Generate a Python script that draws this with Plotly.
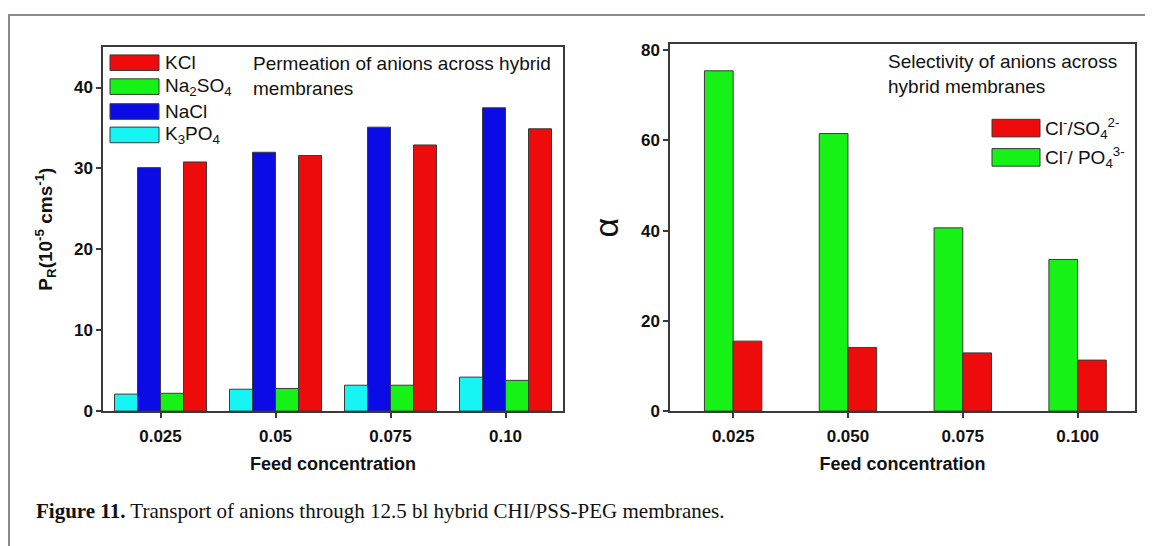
import plotly.graph_objects as go

# The page body adds an 8 px margin; the figure is sized to fill the rest of the window.
PAGE_W, PAGE_H = 1153, 546
OFF = 8
W, H = PAGE_W - OFF, PAGE_H - OFF

# ---------------- data ----------------
conc_left = ["0.025", "0.05", "0.075", "0.10"]
conc_right = ["0.025", "0.050", "0.075", "0.100"]

k3po4 = [2.1, 2.7, 3.2, 4.2]
nacl = [30.1, 32.0, 35.1, 37.5]
na2so4 = [2.2, 2.8, 3.2, 3.8]
kcl = [30.8, 31.6, 32.9, 34.9]

sel_po4 = [75.4, 61.5, 40.6, 33.6]
sel_so4 = [15.5, 14.1, 12.9, 11.3]

left_ticks = [0, 10, 20, 30, 40]
right_ticks = [0, 20, 40, 60, 80]

left_names = ["KCl", "Na<sub>2</sub>SO<sub>4</sub>", "NaCl", "K<sub>3</sub>PO<sub>4</sub>"]
right_names = ["Cl<sup>-</sup>/SO<sub>4</sub><sup>2-</sup>", "Cl<sup>-</sup>/ PO<sub>4</sub><sup>3-</sup>"]

# ---------------- styles ----------------
RED = "#EE0B0B"
GREEN = "#16F216"
BLUE = "#0B0BE6"
CYAN = "#16F4F4"
EDGE = "#3a3a3a"
SANS = "Liberation Sans, Arial, sans-serif"
SERIF = "Liberation Serif, Times New Roman, serif"


def px(x):
    return (x - OFF) / W


def py(y):
    return 1 - (y - OFF) / H


fig = go.Figure()

bar_line = dict(color=EDGE, width=1)
left_series = [
    (k3po4, CYAN, left_names[3], -0.4),
    (nacl, BLUE, left_names[2], -0.2),
    (na2so4, GREEN, left_names[1], 0.0),
    (kcl, RED, left_names[0], 0.2),
]
for vals, col, name, off in left_series:
    fig.add_trace(go.Bar(x=conc_left, y=vals, name=name, marker=dict(color=col, line=bar_line),
                         width=0.2, offset=off, xaxis="x", yaxis="y", showlegend=False))

right_series = [
    (sel_po4, GREEN, right_names[1], -0.25),
    (sel_so4, RED, right_names[0], 0.0),
]
for vals, col, name, off in right_series:
    fig.add_trace(go.Bar(x=conc_right, y=vals, name=name, marker=dict(color=col, line=bar_line),
                         width=0.25, offset=off, xaxis="x2", yaxis="y2", showlegend=False))

axis_common = dict(showline=True, linecolor=EDGE, linewidth=1.5, mirror=True,
                   ticks="outside", ticklen=5, tickwidth=1.5, tickcolor=EDGE,
                   showgrid=False, zeroline=False,
                   tickfont=dict(family=SANS, size=17, color="#111"))

xtitle_font = dict(family=SANS, size=18, color="#111")

fig.update_layout(
    width=W, height=H,
    margin=dict(l=0, r=0, t=0, b=0),
    paper_bgcolor="white", plot_bgcolor="white",
    barmode="overlay",
    xaxis=dict(domain=[px(103), px(563)], anchor="y", type="category",
               range=[-0.5, 3.5], ticklabelstandoff=4,
               tickvals=conc_left, ticktext=[f"<b>{c}</b>" for c in conc_left],
               title=dict(text="<b>Feed concentration</b>", font=xtitle_font, standoff=12),
               **axis_common),
    yaxis=dict(domain=[py(418), py(45)], anchor="x", range=[0, 45], tickvals=left_ticks,
               ticktext=[f"<b>{v}</b>" for v in left_ticks],
               title=dict(text="<b>P<sub>R</sub>(10<sup>-5</sup> cms<sup>-1</sup>)</b>",
                          font=dict(family=SANS, size=19, color="#111"), standoff=16),
               **axis_common),
    xaxis2=dict(domain=[px(670), px(1135)], anchor="y2", type="category",
                range=[-0.55, 3.5], ticklabelstandoff=4,
                tickvals=conc_right, ticktext=[f"<b>{c}</b>" for c in conc_right],
                title=dict(text="<b>Feed concentration</b>", font=xtitle_font, standoff=12),
                **axis_common),
    yaxis2=dict(domain=[py(418), py(42)], anchor="x2", range=[0, 81.3], tickvals=right_ticks,
                ticktext=[f"<b>{v}</b>" for v in right_ticks],
                title=dict(text="α", font=dict(family=SANS, size=34, color="#111"), standoff=12),
                **axis_common),
)

shapes = []
annotations = []

# outer frame of the figure panel
shapes.append(dict(type="rect", xref="paper", yref="paper", x0=px(9), x1=px(1190), y0=py(600), y1=py(12),
                   line=dict(color="#8a8a8a", width=2), fillcolor="rgba(0,0,0,0)", layer="below"))

# left legend (manual, wide keys like the original)
left_cols = [RED, GREEN, BLUE, CYAN]
left_rows = [61, 85.5, 111, 135]
for name, col, yc in zip(left_names, left_cols, left_rows):
    shapes.append(dict(type="rect", xref="paper", yref="paper", x0=px(110), x1=px(159),
                       y0=py(yc + 8), y1=py(yc - 8), fillcolor=col, line=dict(color=EDGE, width=1)))
    annotations.append(dict(xref="paper", yref="paper", x=px(163), y=py(yc), text=name, showarrow=False,
                            xanchor="left", yanchor="middle", font=dict(family=SANS, size=19, color="#111")))

# right legend
right_cols = [RED, GREEN]
right_rows = [128, 158]
for name, col, yc in zip(right_names, right_cols, right_rows):
    shapes.append(dict(type="rect", xref="paper", yref="paper", x0=px(992), x1=px(1040),
                       y0=py(yc + 9), y1=py(yc - 9), fillcolor=col, line=dict(color=EDGE, width=1)))
    annotations.append(dict(xref="paper", yref="paper", x=px(1043), y=py(yc), text=name, showarrow=False,
                            xanchor="left", yanchor="middle", font=dict(family=SANS, size=19, color="#111")))

# in-plot descriptions
annotations.append(dict(xref="paper", yref="paper", x=px(251), y=py(49),
                        text="Permeation of anions across hybrid<br>membranes", showarrow=False,
                        xanchor="left", yanchor="top", align="left",
                        font=dict(family=SANS, size=19, color="#111")))
annotations.append(dict(xref="paper", yref="paper", x=px(886), y=py(47),
                        text="Selectivity of anions across<br>hybrid membranes", showarrow=False,
                        xanchor="left", yanchor="top", align="left",
                        font=dict(family=SANS, size=19, color="#111")))

# caption
annotations.append(dict(xref="paper", yref="paper", x=px(34), y=py(520),
                        text="<b>Figure 11.</b> Transport of anions through 12.5 bl hybrid CHI/PSS-PEG membranes.",
                        showarrow=False, xanchor="left", yanchor="middle",
                        font=dict(family=SERIF, size=21, color="#111")))

fig.update_layout(shapes=shapes, annotations=annotations)

fig.write_html("out.html")
